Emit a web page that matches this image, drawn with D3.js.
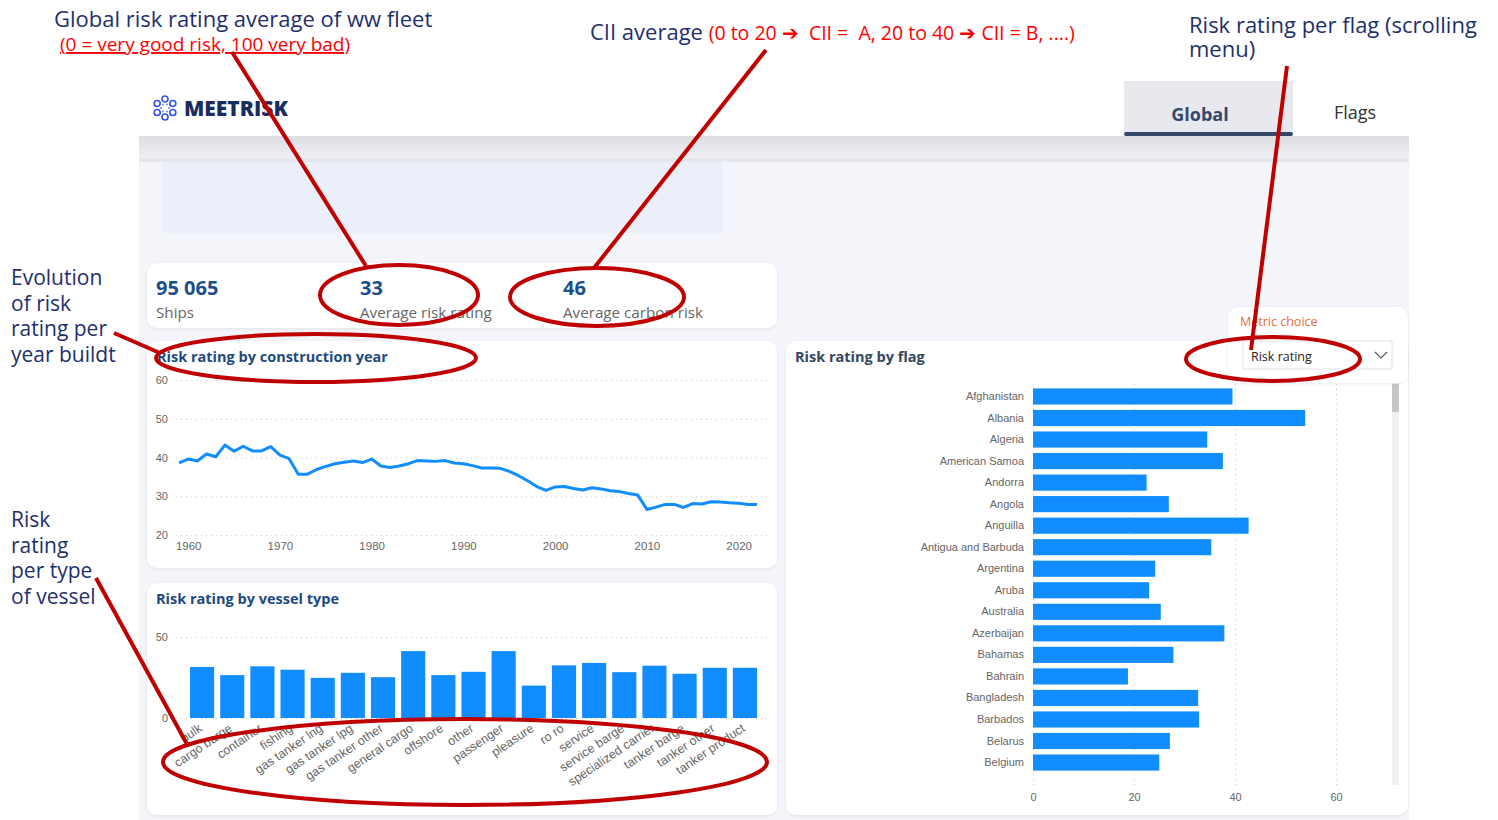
<!DOCTYPE html>
<html>
<head>
<meta charset="utf-8">
<script src="https://cdn.jsdelivr.net/npm/d3@7"></script>
<style>
  body { margin: 0; background: #fff; }
  svg { display: block; font-family: "Open Sans", sans-serif; }
</style>
</head>
<body>
<svg id="page" width="1498" height="820"></svg>
<script>
// ---- data ----
const kpiValues = ['95 065', '33', '46'];
const kpiLabels = ['Ships', 'Average risk rating', 'Average carbon risk'];

const buildYears = d3.range(1959, 2023);
const yearRisk = [38.6, 39.6, 39.1, 40.9, 40.2, 43.2, 41.6, 42.9, 41.7, 41.7,
                  42.8, 40.6, 39.7, 35.7, 35.7, 36.9, 37.7, 38.4, 38.8, 39.1,
                  38.7, 39.6, 37.8, 37.4, 37.8, 38.4, 39.2, 39.1, 39.0, 39.2,
                  38.6, 38.4, 37.9, 37.3, 37.3, 37.2, 36.4, 35.3, 34.0, 32.5,
                  31.5, 32.4, 32.5, 32.0, 31.6, 32.2, 31.9, 31.4, 31.2, 30.7,
                  30.3, 26.6, 27.2, 27.9, 27.9, 27.1, 28.1, 28.0, 28.6, 28.5,
                  28.3, 28.2, 27.9, 27.9];
const yearTicks = [1960, 1970, 1980, 1990, 2000, 2010, 2020];
const yearRiskTicks = [20, 30, 40, 50, 60];

const vesselTypes = ['bulk', 'cargo barge', 'container', 'fishing', 'gas tanker lng',
                     'gas tanker lpg', 'gas tanker other', 'general cargo', 'offshore',
                     'other', 'passenger', 'pleasure', 'ro ro', 'service', 'service barge',
                     'specialized carrier', 'tanker barge', 'tanker other', 'tanker product'];
const vesselRisk = [31.5, 26.5, 31.9, 29.8, 24.8, 27.9, 25.2, 41.3, 26.5, 28.5,
                    41.3, 20.0, 32.5, 34.0, 28.3, 32.3, 27.3, 31.0, 31.0];
const vesselTicks = [0, 50];

const flags = ['Afghanistan', 'Albania', 'Algeria', 'American Samoa', 'Andorra', 'Angola',
               'Anguilla', 'Antigua and Barbuda', 'Argentina', 'Aruba', 'Australia',
               'Azerbaijan', 'Bahamas', 'Bahrain', 'Bangladesh', 'Barbados', 'Belarus', 'Belgium'];
const flagRisk = [39.5, 53.9, 34.5, 37.6, 22.5, 26.9, 42.7, 35.3, 24.2, 23.0, 25.3,
                  37.9, 27.8, 18.8, 32.7, 32.9, 27.1, 25.0];
const flagTicks = [0, 20, 40, 60];

// ---- colours ----
const navy = '#1f2f6d';
const annotRed = '#c00000';
const barBlue = '#118dff';
const titleBlue = '#1d4a80';
const gridGrey = '#c8c8c8';
const tickGrey = '#666';

const svg = d3.select('#page');
const defs = svg.append('defs');

const shadow = defs.append('filter').attr('id', 'cardShadow')
    .attr('x', '-5%').attr('y', '-10%').attr('width', '110%').attr('height', '130%');
shadow.append('feDropShadow').attr('dx', 0).attr('dy', 1).attr('stdDeviation', 1.5)
    .attr('flood-color', '#000').attr('flood-opacity', 0.08);

const band = defs.append('linearGradient').attr('id', 'topBand')
    .attr('x1', 0).attr('y1', 0).attr('x2', 0).attr('y2', 1);
band.append('stop').attr('offset', '0%').attr('stop-color', '#dcdde3');
band.append('stop').attr('offset', '100%').attr('stop-color', '#eff0f5');

function card(x, y, w, h) {
    svg.append('rect')
        .attr('x', x).attr('y', y).attr('width', w).attr('height', h)
        .attr('rx', 10)
        .attr('fill', '#fff')
        .attr('filter', 'url(#cardShadow)');
}

function drawCanvas() {
    // report background
    svg.append('rect').attr('x', 139).attr('y', 136).attr('width', 1270).attr('height', 684)
        .attr('fill', '#f3f5fb');
    svg.append('rect').attr('x', 139).attr('y', 136).attr('width', 1270).attr('height', 22)
        .attr('fill', 'url(#topBand)');
    svg.append('rect').attr('x', 139).attr('y', 158).attr('width', 1270).attr('height', 4)
        .attr('fill', '#e6e7ee');
    svg.append('rect').attr('x', 162).attr('y', 162).attr('width', 561).attr('height', 71)
        .attr('fill', '#ebeff9');
}

function drawHeader() {
    // logo mark
    const logo = svg.append('g').attr('transform', 'translate(165,108)');
    d3.range(6).forEach(i => {
        const a = i * Math.PI / 3 - Math.PI / 2;
        logo.append('circle')
            .attr('cx', 9 * Math.cos(a)).attr('cy', 9 * Math.sin(a)).attr('r', 3)
            .attr('fill', 'none').attr('stroke', '#3558e0').attr('stroke-width', 1.7);
        logo.append('circle')
            .attr('cx', 4 * Math.cos(a + Math.PI / 6)).attr('cy', 4 * Math.sin(a + Math.PI / 6)).attr('r', 1)
            .attr('fill', '#6f86ea');
    });
    svg.append('text').attr('x', 184).attr('y', 116)
        .text('MEETRISK')
        .style('font-size', '21px').style('font-weight', 800)
        .attr('fill', '#1a2b5f');

    // tabs
    svg.append('rect').attr('x', 1124).attr('y', 81).attr('width', 169).attr('height', 52)
        .attr('fill', '#e8e9ee');
    svg.append('rect').attr('x', 1124).attr('y', 132).attr('width', 169).attr('height', 4)
        .attr('rx', 2).attr('fill', '#34486b');
    svg.append('text').attr('x', 1200).attr('y', 121).attr('text-anchor', 'middle')
        .text('Global').style('font-size', '18px').style('font-weight', 700).attr('fill', '#34486b');
    svg.append('text').attr('x', 1355).attr('y', 119).attr('text-anchor', 'middle')
        .text('Flags').style('font-size', '18px').attr('fill', '#333');
}

function drawKpis() {
    card(147, 263, 630, 65);
    const kpiX = [156, 360, 563];
    kpiValues.forEach((v, i) => {
        svg.append('text').attr('x', kpiX[i]).attr('y', 295)
            .text(v).style('font-size', '20px').style('font-weight', 700).attr('fill', '#1b4f8a');
        svg.append('text').attr('x', kpiX[i]).attr('y', 318)
            .text(kpiLabels[i]).style('font-size', '15.2px').attr('fill', '#666');
    });
}

function styleAxis(g, size) {
    g.select('.domain').remove();
    g.selectAll('text').attr('fill', tickGrey).style('font-size', size || '11px');
}

function drawYearChart() {
    card(147, 341, 630, 227);
    svg.append('text').attr('x', 157).attr('y', 362)
        .text('Risk rating by construction year')
        .style('font-size', '14.5px').style('font-weight', 700).attr('fill', titleBlue);

    const x = d3.scaleLinear().domain([1959, 2022]).range([179, 757]);
    const y = d3.scaleLinear().domain([20, 60]).range([535, 380]);

    svg.append('g').attr('transform', 'translate(176,0)')
        .call(d3.axisLeft(y).tickValues(yearRiskTicks).tickSize(-592).tickPadding(8))
        .call(g => {
            styleAxis(g);
            g.selectAll('line').attr('stroke', gridGrey).attr('stroke-dasharray', '1,4');
        });

    svg.append('g').attr('transform', 'translate(0,540)')
        .call(d3.axisBottom(x).tickValues(yearTicks).tickFormat(d3.format('d')).tickSize(0).tickPadding(2))
        .call(g => styleAxis(g, '11.5px'));

    const line = d3.line().x((d, i) => x(buildYears[i])).y(d => y(d));
    svg.append('path').datum(yearRisk)
        .attr('d', line)
        .attr('fill', 'none').attr('stroke', barBlue).attr('stroke-width', 3)
        .attr('stroke-linejoin', 'round');
}

function drawVesselChart() {
    card(147, 583, 630, 232);
    svg.append('text').attr('x', 156).attr('y', 604)
        .text('Risk rating by vessel type')
        .style('font-size', '14.5px').style('font-weight', 700).attr('fill', titleBlue);

    const x = d3.scaleBand().domain(vesselTypes).range([187, 760]).paddingInner(0.2).paddingOuter(0.1);
    const y = d3.scaleLinear().domain([0, 50]).range([718, 637]);

    svg.append('g').attr('transform', 'translate(176,0)')
        .call(d3.axisLeft(y).tickValues(vesselTicks).tickSize(-592).tickPadding(8))
        .call(g => {
            styleAxis(g);
            g.selectAll('line').attr('stroke', gridGrey).attr('stroke-dasharray', '1,4');
        });

    svg.selectAll('.vessel-bar')
        .data(vesselRisk)
        .enter()
        .append('rect')
            .classed('vessel-bar', true)
            .attr('x', (d, i) => x(vesselTypes[i]))
            .attr('y', d => y(d))
            .attr('width', x.bandwidth())
            .attr('height', d => y(0) - y(d))
            .attr('fill', barBlue);

    svg.append('g').attr('transform', 'translate(0,722)')
        .call(d3.axisBottom(x).tickSize(0).tickPadding(0))
        .call(g => {
            styleAxis(g, '12.5px');
            g.selectAll('text')
                .attr('text-anchor', 'end')
                .attr('dy', '0.7em')
                .attr('transform', 'translate(-4,1) rotate(-34)');
        });
}

function drawFlagChart() {
    card(786, 341, 622, 474);
    svg.append('text').attr('x', 795).attr('y', 362)
        .text('Risk rating by flag')
        .style('font-size', '14.5px').style('font-weight', 700).attr('fill', '#34475f');

    const x = d3.scaleLinear().domain([0, 60]).range([1033, 1336]);
    const y = d3.scaleBand().domain(flags).range([383, 776]).padding(0.25);

    svg.append('g').attr('transform', 'translate(0,785)')
        .call(d3.axisBottom(x).tickValues(flagTicks).tickSize(-403).tickPadding(8))
        .call(g => {
            styleAxis(g);
            g.selectAll('line').attr('stroke', gridGrey).attr('stroke-dasharray', '1,4');
        });

    svg.selectAll('.flag-bar')
        .data(flagRisk)
        .enter()
        .append('rect')
            .classed('flag-bar', true)
            .attr('x', x(0))
            .attr('y', (d, i) => y(flags[i]))
            .attr('width', d => x(d) - x(0))
            .attr('height', y.bandwidth())
            .attr('fill', barBlue);

    svg.append('g').attr('transform', 'translate(1033,0)')
        .call(d3.axisLeft(y).tickSize(0).tickPadding(9))
        .call(g => styleAxis(g, '11px'));

    // scroll bar
    svg.append('rect').attr('x', 1392).attr('y', 382).attr('width', 7).attr('height', 403).attr('fill', '#f1f1f1');
    svg.append('rect').attr('x', 1392).attr('y', 384).attr('width', 7).attr('height', 28).attr('fill', '#c6c6c6');
}

function drawMetricChoice() {
    svg.append('rect').attr('x', 1228).attr('y', 307).attr('width', 180).attr('height', 76)
        .attr('rx', 10).attr('fill', '#fff').attr('filter', 'url(#cardShadow)');
    svg.append('text').attr('x', 1240).attr('y', 326)
        .text('Metric choice').style('font-size', '12.5px').attr('fill', '#e66c37');
    svg.append('rect').attr('x', 1243).attr('y', 341).attr('width', 149).attr('height', 28)
        .attr('fill', '#fff').attr('stroke', '#e3e3e3');
    svg.append('text').attr('x', 1251).attr('y', 361)
        .text('Risk rating').style('font-size', '12.5px').attr('fill', '#252423');
    svg.append('path').attr('d', 'M1375,352 L1381,358 L1387,352')
        .attr('fill', 'none').attr('stroke', '#555').attr('stroke-width', 1.2);
}

function drawAnnotations() {
    const noteBlocks = [
        {x: 54, y: 27, size: 22, step: 24, lines: ['Global risk rating average of ww fleet']},
        {x: 1189, y: 33, size: 22, step: 24, lines: ['Risk rating per flag (scrolling', 'menu)']},
        {x: 11, y: 285, size: 21, step: 25.5, lines: ['Evolution', 'of risk', 'rating per', 'year buildt']},
        {x: 11, y: 527, size: 21, step: 25.5, lines: ['Risk', 'rating', 'per type', 'of vessel']}
    ];
    noteBlocks.forEach(n => {
        const t = svg.append('text').attr('x', n.x).attr('y', n.y)
            .style('font-size', n.size + 'px').attr('fill', navy);
        n.lines.forEach((l, i) => {
            t.append('tspan').attr('x', n.x).attr('dy', i === 0 ? 0 : n.step).text(l);
        });
    });

    svg.append('text').attr('x', 60).attr('y', 51)
        .text('(0 = very good risk, 100 very bad)')
        .style('font-size', '19px').style('text-decoration', 'underline').attr('fill', '#ff0000');

    const cii = svg.append('text').attr('x', 590).attr('y', 40).style('white-space', 'pre');
    cii.append('tspan').text('CII average ').style('font-size', '22px').attr('fill', navy);
    cii.append('tspan').text('(0 to 20 \u2794  CII =  A, 20 to 40 \u2794 CII = B, ....)')
        .style('font-size', '19.5px').attr('fill', '#ff0000');

    const ellipses = [
        {cx: 399, cy: 295, rx: 79, ry: 30},
        {cx: 597, cy: 297, rx: 87, ry: 29},
        {cx: 316, cy: 358, rx: 160, ry: 24},
        {cx: 1273, cy: 359, rx: 87, ry: 22},
        {cx: 465, cy: 762, rx: 302, ry: 43}
    ];
    svg.selectAll('.note-ellipse')
        .data(ellipses)
        .enter()
        .append('ellipse')
            .classed('note-ellipse', true)
            .attr('cx', d => d.cx).attr('cy', d => d.cy)
            .attr('rx', d => d.rx).attr('ry', d => d.ry)
            .attr('fill', 'none').attr('stroke', annotRed).attr('stroke-width', 4);

    const pointers = [
        [[232, 52], [366, 266]],
        [[766, 50], [594, 268]],
        [[1287, 66], [1251, 350]],
        [[114, 333], [160, 353]],
        [[96, 578], [188, 746]]
    ];
    svg.selectAll('.note-line')
        .data(pointers)
        .enter()
        .append('path')
            .classed('note-line', true)
            .attr('d', d => d3.line()(d))
            .attr('stroke', annotRed).attr('stroke-width', 4).attr('fill', 'none');
}

drawCanvas();
drawHeader();
drawKpis();
drawYearChart();
drawVesselChart();
drawFlagChart();
drawMetricChoice();
drawAnnotations();
</script>
</body>
</html>
